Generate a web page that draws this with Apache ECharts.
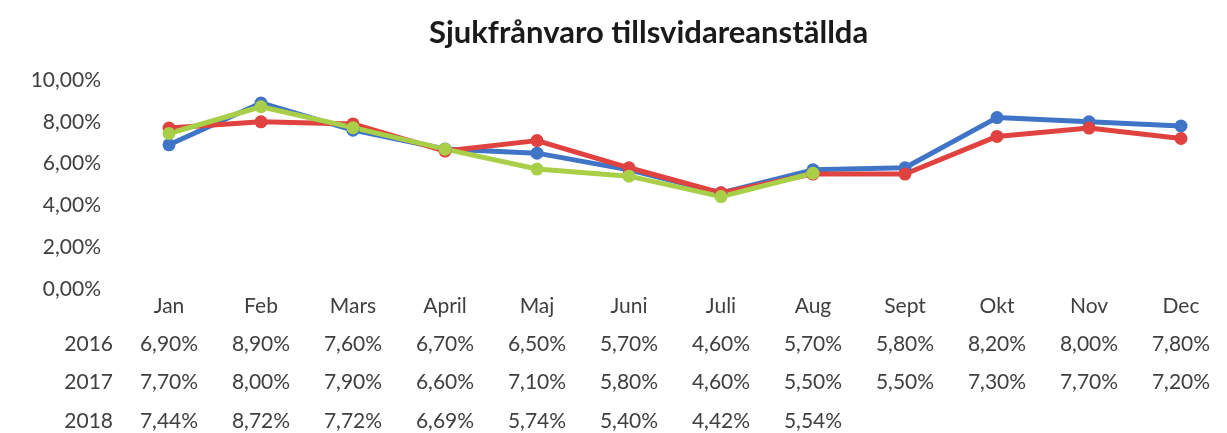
<!DOCTYPE html>
<html>
<head>
<meta charset="utf-8">
<script src="https://cdn.jsdelivr.net/npm/echarts@6/dist/echarts.min.js"></script>
<style>
  html, body { margin: 0; padding: 0; background: #fff; }
  #chart { width: 1227px; height: 433px; }
</style>
</head>
<body>
<div id="chart"></div>
<script>
const months = ['Jan', 'Feb', 'Mars', 'April', 'Maj', 'Juni', 'Juli', 'Aug', 'Sept', 'Okt', 'Nov', 'Dec'];
const years = ['2016', '2017', '2018'];
const values2016 = [6.90, 8.90, 7.60, 6.70, 6.50, 5.70, 4.60, 5.70, 5.80, 8.20, 8.00, 7.80];
const values2017 = [7.70, 8.00, 7.90, 6.60, 7.10, 5.80, 4.60, 5.50, 5.50, 7.30, 7.70, 7.20];
const values2018 = [7.44, 8.72, 7.72, 6.69, 5.74, 5.40, 4.42, 5.54];
const colors = ['#4074c6', '#e0423f', '#a9cf48'];

const FONT = 'Lato, "Open Sans", sans-serif';
const pct = v => v.toFixed(2).replace('.', ',') + '%';

const seriesValues = [values2016, values2017, values2018];

// rader i datatabellen under diagrammet, en extra x-axel per år
const tableOffsets = [55, 93, 132];
const tableAxes = years.map((year, i) => ({
  type: 'category',
  gridIndex: 0,
  position: 'bottom',
  offset: tableOffsets[i],
  data: months.map((m, j) => seriesValues[i][j] == null ? '' : pct(seriesValues[i][j])),
  name: year,
  nameLocation: 'start',
  nameGap: 10,
  nameTextStyle: { fontFamily: FONT, fontSize: 21, color: '#404040' },
  axisLine: { show: false },
  axisTick: { show: false },
  axisLabel: {
    interval: 0,
    margin: 0,
    verticalAlign: 'middle',
    fontFamily: FONT,
    fontSize: 21,
    color: '#404040'
  }
}));

const chart = echarts.init(document.getElementById('chart'));
chart.setOption({
  backgroundColor: '#fff',
  animation: false,
  title: {
    text: 'Sjukfrånvaro tillsvidareanställda',
    left: 424,
    top: 12,
    textStyle: { fontFamily: FONT, fontSize: 31, fontWeight: 'bold', color: '#1a1a1a' }
  },
  grid: { left: 123, right: 0, top: 80, bottom: 144 },
  xAxis: [
    {
      type: 'category',
      data: months,
      axisLine: { show: false },
      axisTick: { show: false },
      axisLabel: {
        interval: 0,
        margin: 7,
        fontFamily: FONT,
        fontSize: 21,
        color: '#404040'
      }
    },
    ...tableAxes
  ],
  yAxis: {
    type: 'value',
    min: 0,
    max: 10,
    interval: 2,
    axisLine: { show: false },
    axisTick: { show: false },
    splitLine: { show: false },
    axisLabel: {
      margin: 22,
      formatter: pct,
      fontFamily: FONT,
      fontSize: 21,
      color: '#404040'
    }
  },
  series: years.map((year, i) => ({
    name: year,
    type: 'line',
    xAxisIndex: 0,
    data: seriesValues[i],
    symbol: 'circle',
    symbolSize: 13,
    lineStyle: { width: 5, color: colors[i] },
    itemStyle: { color: colors[i] }
  }))
});
</script>
</body>
</html>
